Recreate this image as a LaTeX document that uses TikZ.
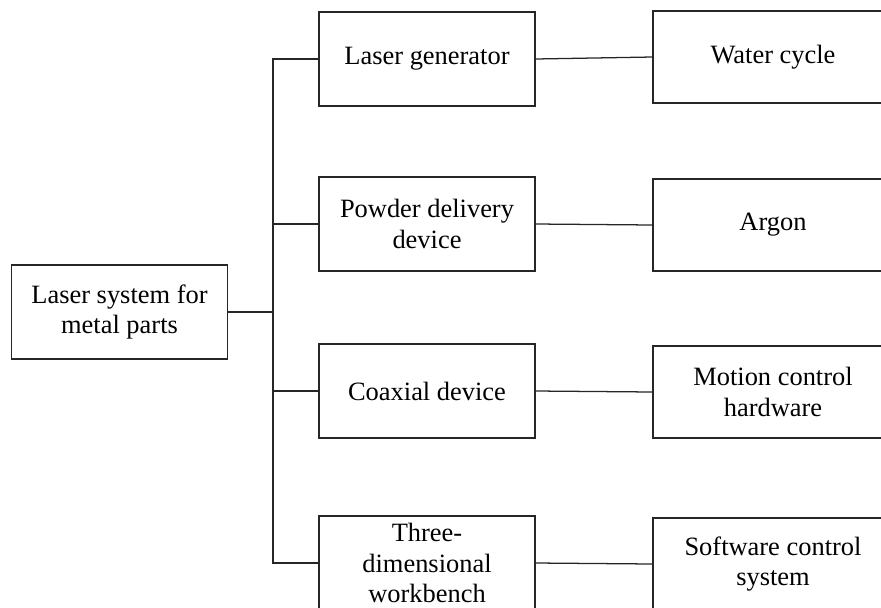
\documentclass[tikz,border=0pt]{standalone}
\usepackage{fontspec}
\setmainfont{Liberation Serif}
\begin{document}
\begin{tikzpicture}[x=0.025cm,y=-0.025cm,
  part/.style={draw=black!85,line width=0.9pt,minimum width=5.4cm,minimum height=2.35cm,inner sep=0pt,align=center,font=\fontsize{18.8}{21.8}\selectfont},
  sub/.style={part,minimum width=6cm,minimum height=2.3cm},
  link/.style={draw=black!85,line width=0.9pt}]

       \useasboundingbox (0,0) rectangle (881,607);
       \clip (0,0) rectangle (881,607);

       \node[part] (sys) at (119.5,312) {Laser system for\\metal parts};
       \node[part] (gen) at (427,59) {Laser generator};
       \node[part] (powder) at (427,224) {Powder delivery\\device};
       \node[part] (coax) at (427,391) {Coaxial device};
       \node[part] (bench) at (427,563) {Three-\\dimensional\\workbench};
       \node[sub] (water) at (773,57) {Water cycle};
       \node[sub] (argon) at (773,225) {Argon};
       \node[sub] (motion) at (773,392) {Motion control\\hardware};
       \node[sub] (soft) at (773,564) {Software control\\system};
       \coordinate (trunk) at (273,0);

       \draw[link] (sys.east) -- (sys.east -| trunk);
       \draw[link] (gen.west) -| (trunk |- bench.west) -- (bench.west);
       \draw[link] (powder.west) -- (powder.west -| trunk);
       \draw[link] (coax.west) -- (coax.west -| trunk);
       \draw[link] (gen.east) -- (water.west);
       \draw[link] (powder.east) -- (argon.west);
       \draw[link] (coax.east) -- (motion.west);
       \draw[link] (bench.east) -- (soft.west);
     \end{tikzpicture}
\end{document}
